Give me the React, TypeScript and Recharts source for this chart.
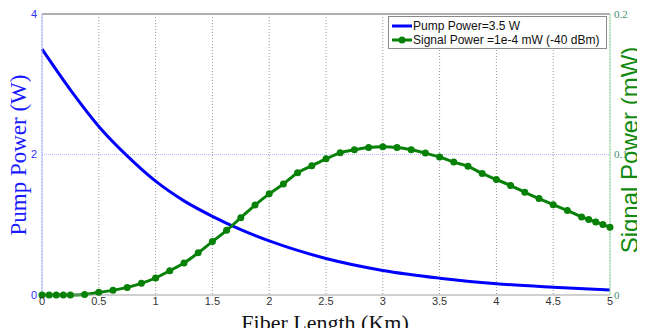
import React from 'react';
import { LineChart, Line, XAxis, YAxis, CartesianGrid, ReferenceLine } from 'recharts';

const xTicks = [0, 0.5, 1, 1.5, 2, 2.5, 3, 3.5, 4, 4.5, 5];
const leftTicks = [0, 2, 4];
const rightTicks = [0, 0.1, 0.2];

// pump power (W) along the fiber
const pumpKm = [0, 0.25, 0.5, 0.75, 1, 1.25, 1.5, 1.75, 2, 2.5, 3, 3.5, 4, 4.5, 5];
const pumpW = [3.5, 2.92, 2.4, 1.98, 1.62, 1.34, 1.12, 0.93, 0.77, 0.52, 0.35, 0.24, 0.16, 0.11, 0.07];

// signal power (mW) at solver steps
const signalKm = [
  0, 0.0625, 0.125, 0.1875, 0.25, 0.375, 0.5, 0.625, 0.75, 0.875, 1, 1.125, 1.25, 1.375, 1.5,
  1.625, 1.75, 1.875, 2, 2.125, 2.25, 2.375, 2.5, 2.625, 2.75, 2.875, 3, 3.125, 3.25, 3.375,
  3.5, 3.625, 3.75, 3.875, 4, 4.125, 4.25, 4.375, 4.5, 4.625, 4.75, 4.8125, 4.875, 4.9375, 5,
];
const signalMw = [
  0, 0, 0, 0, 0, 0.0004, 0.0019, 0.0033, 0.0054, 0.0083, 0.0121, 0.0173, 0.0228, 0.03, 0.038,
  0.046, 0.055, 0.064, 0.072, 0.079, 0.087, 0.092, 0.0969, 0.1012, 0.1034, 0.105, 0.1055, 0.105, 0.1034, 0.101,
  0.0982, 0.0946, 0.0916, 0.0865, 0.0822, 0.0779, 0.0731, 0.0686, 0.0643, 0.0601, 0.0556, 0.0537, 0.052, 0.0501, 0.0482,
];

const pumpData = pumpKm.map((km, i) => ({ km, pump: pumpW[i] }));
const signalData = signalKm.map((km, i) => ({ km, signal: signalMw[i] }));

const serif = '"Liberation Serif", "Times New Roman", serif';
const sans = '"Liberation Sans", Arial, sans-serif';

export default function App() {
  return (
    <div style={{ position: 'relative', width: 645, height: 336, margin: -8, background: '#fff', fontFamily: sans }}>
      <LineChart width={645} height={336} margin={{ top: 14, right: 0, bottom: 0, left: 0 }}>
        <CartesianGrid
          yAxisId="left"
          horizontal={false}
          stroke="#9a9a9a"
          strokeDasharray="1 2"
        />
        <XAxis
          dataKey="km"
          type="number"
          domain={[0, 5]}
          ticks={xTicks}
          height={41}
          stroke="#a0a0a0"
          tickLine={false}
          tickSize={0}
          tickMargin={2}
          tick={{ fill: '#333', fontSize: 11, fontFamily: sans }}
          allowDuplicatedCategory={false}
        />
        <YAxis
          yAxisId="left"
          domain={[0, 4]}
          ticks={leftTicks}
          width={42}
          stroke="#b0b4ff"
          tickLine={false}
          tickSize={0}
          tickMargin={5}
          tick={{ fill: '#3030ff', fontSize: 11, fontFamily: sans }}
        />
        <YAxis
          yAxisId="right"
          orientation="right"
          domain={[0, 0.2]}
          ticks={rightTicks}
          width={35}
          stroke="#a8e0a8"
          tickLine={false}
          tickSize={0}
          tickMargin={4}
          tick={{ fill: '#3f8f6f', fontSize: 11, fontFamily: serif, textAnchor: 'start' }}
        />
        <ReferenceLine yAxisId="left" y={2} stroke="#b8b8ff" strokeDasharray="1 1" />
        <ReferenceLine yAxisId="left" y={4} stroke="#b0b0b0" strokeWidth={2} />
        <Line
          yAxisId="left"
          data={pumpData}
          dataKey="pump"
          type="monotone"
          stroke="#0000ff"
          strokeWidth={3}
          dot={false}
          isAnimationActive={false}
        />
        <Line
          yAxisId="right"
          data={signalData}
          dataKey="signal"
          type="monotone"
          stroke="#078107"
          strokeWidth={3}
          dot={{ r: 3.5, fill: '#078107', stroke: '#078107', strokeWidth: 0 }}
          isAnimationActive={false}
        />
      </LineChart>

      {/* legend */}
      <div
        style={{
          position: 'absolute', left: 388, top: 16, width: 219, height: 33,
          border: '1px solid #8a8a8a', background: '#fff', fontSize: 12, color: '#111',
          boxSizing: 'border-box', padding: '2px 0 0 2px', lineHeight: '14px',
        }}
      >
        <div style={{ display: 'flex', alignItems: 'center' }}>
          <svg width={22} height={14}>
            <line x1={1} y1={7} x2={21} y2={7} stroke="#0000ff" strokeWidth={3} />
          </svg>
          <span>Pump Power=3.5 W</span>
        </div>
        <div style={{ display: 'flex', alignItems: 'center' }}>
          <svg width={22} height={14}>
            <line x1={1} y1={7} x2={21} y2={7} stroke="#078107" strokeWidth={3} />
            <circle cx={11} cy={7} r={3.5} fill="#078107" />
          </svg>
          <span>Signal Power =1e-4 mW (-40 dBm)</span>
        </div>
      </div>

      {/* axis titles */}
      <div
        style={{
          position: 'absolute', left: 18, top: 155, transform: 'translate(-50%, -50%) rotate(-90deg)',
          whiteSpace: 'nowrap', fontFamily: serif, fontSize: 23, lineHeight: 1, color: '#1a1aff',
        }}
      >
        Pump Power (W)
      </div>
      <div
        style={{
          position: 'absolute', left: 630, top: 150, transform: 'translate(-50%, -50%) rotate(-90deg)',
          whiteSpace: 'nowrap', fontFamily: sans, fontSize: 24, lineHeight: 1, color: '#128a12',
        }}
      >
        Signal Power (mW)
      </div>
      <div
        style={{
          position: 'absolute', left: 325, top: 323, transform: 'translate(-50%, -50%)',
          whiteSpace: 'nowrap', fontFamily: serif, fontSize: 22, lineHeight: 1, color: '#111',
        }}
      >
        Fiber Length (Km)
      </div>
    </div>
  );
}
